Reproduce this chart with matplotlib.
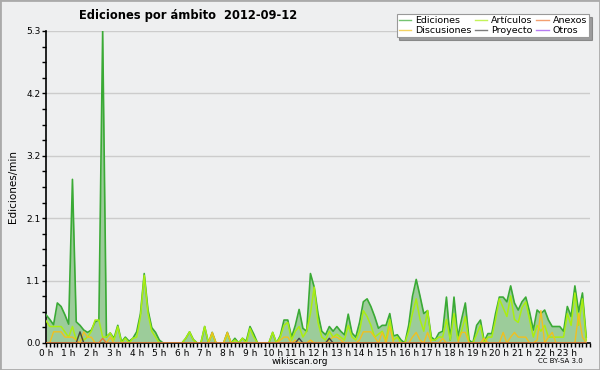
import matplotlib
matplotlib.use("Agg")
import matplotlib.pyplot as plt
from matplotlib.lines import Line2D
from matplotlib.patches import Rectangle
import numpy as np

# edits per minute, one value every 10 minutes (6 per hour)
ediciones = [
    0.48, 0.40, 0.31, 0.68, 0.62, 0.48,
    0.32, 2.78, 0.36, 0.30, 0.22, 0.18,
    0.22, 0.36, 0.39, 5.30, 0.10, 0.17,
    0.08, 0.30, 0.02, 0.10, 0.03, 0.08,
    0.19, 0.50, 1.18, 0.56, 0.26, 0.18,
    0.05, 0.00, 0.00, 0.00, 0.00, 0.00,
    0.00, 0.08, 0.19, 0.06, 0.00, 0.00,
    0.28, 0.00, 0.18, 0.00, 0.00, 0.00,
    0.18, 0.00, 0.08, 0.00, 0.08, 0.03,
    0.28, 0.15, 0.00, 0.00, 0.00, 0.00,
    0.18, 0.00, 0.12, 0.39, 0.39, 0.10,
    0.30, 0.57, 0.25, 0.20, 1.18, 0.95,
    0.50, 0.20, 0.14, 0.28, 0.20, 0.28,
    0.20, 0.14, 0.49, 0.17, 0.10, 0.35,
    0.70, 0.75, 0.62, 0.45, 0.25, 0.30,
    0.30, 0.50, 0.12, 0.14, 0.05, 0.00,
    0.30, 0.79, 1.08, 0.80, 0.50, 0.55,
    0.10, 0.05, 0.17, 0.20, 0.78, 0.05,
    0.78, 0.10, 0.40, 0.68, 0.05, 0.00,
    0.30, 0.39, 0.03, 0.16, 0.16, 0.50,
    0.78, 0.78, 0.70, 0.97, 0.68, 0.56,
    0.70, 0.78, 0.53, 0.22, 0.56, 0.50,
    0.56, 0.39, 0.28, 0.28, 0.28, 0.20,
    0.62, 0.45, 0.97, 0.53, 0.85, 0.10,
]

articulos = [
    0.38, 0.28, 0.28, 0.28, 0.28, 0.19,
    0.10, 0.28, 0.05, 0.15, 0.05, 0.10,
    0.20, 0.39, 0.39, 0.10, 0.10, 0.17,
    0.05, 0.28, 0.00, 0.08, 0.00, 0.08,
    0.10, 0.45, 1.15, 0.50, 0.20, 0.10,
    0.00, 0.00, 0.00, 0.00, 0.00, 0.00,
    0.00, 0.08, 0.19, 0.05, 0.00, 0.00,
    0.28, 0.00, 0.15, 0.00, 0.00, 0.00,
    0.15, 0.00, 0.05, 0.00, 0.08, 0.00,
    0.25, 0.10, 0.00, 0.00, 0.00, 0.00,
    0.18, 0.00, 0.10, 0.30, 0.35, 0.05,
    0.20, 0.28, 0.10, 0.20, 0.50, 0.95,
    0.35, 0.10, 0.05, 0.20, 0.10, 0.15,
    0.10, 0.05, 0.30, 0.10, 0.05, 0.20,
    0.55, 0.45, 0.30, 0.10, 0.15, 0.20,
    0.05, 0.40, 0.05, 0.10, 0.00, 0.00,
    0.20, 0.50, 0.75, 0.40, 0.20, 0.55,
    0.05, 0.05, 0.10, 0.10, 0.40, 0.05,
    0.50, 0.05, 0.20, 0.45, 0.00, 0.00,
    0.15, 0.30, 0.00, 0.10, 0.10, 0.40,
    0.75, 0.60, 0.45, 0.80, 0.40, 0.35,
    0.60, 0.70, 0.40, 0.10, 0.30, 0.20,
    0.30, 0.10, 0.10, 0.10, 0.10, 0.10,
    0.50, 0.30, 0.85, 0.30, 0.75, 0.05,
]

discusiones = [
    0.00, 0.00, 0.19, 0.19, 0.19, 0.10,
    0.10, 0.10, 0.05, 0.00, 0.19, 0.10,
    0.10, 0.00, 0.00, 0.00, 0.00, 0.10,
    0.00, 0.00, 0.00, 0.00, 0.00, 0.00,
    0.00, 0.00, 0.00, 0.00, 0.00, 0.00,
    0.00, 0.00, 0.00, 0.00, 0.00, 0.00,
    0.00, 0.00, 0.00, 0.00, 0.00, 0.00,
    0.00, 0.00, 0.18, 0.00, 0.00, 0.00,
    0.18, 0.00, 0.00, 0.00, 0.00, 0.00,
    0.00, 0.00, 0.00, 0.00, 0.00, 0.00,
    0.00, 0.00, 0.05, 0.10, 0.10, 0.00,
    0.05, 0.00, 0.00, 0.00, 0.05, 0.00,
    0.00, 0.00, 0.00, 0.05, 0.10, 0.10,
    0.05, 0.00, 0.00, 0.00, 0.00, 0.05,
    0.19, 0.19, 0.19, 0.10, 0.00, 0.18,
    0.00, 0.28, 0.00, 0.00, 0.00, 0.00,
    0.00, 0.10, 0.18, 0.05, 0.00, 0.18,
    0.00, 0.00, 0.00, 0.08, 0.00, 0.00,
    0.00, 0.00, 0.18, 0.18, 0.00, 0.00,
    0.00, 0.00, 0.08, 0.00, 0.00, 0.00,
    0.00, 0.18, 0.00, 0.10, 0.18, 0.10,
    0.10, 0.10, 0.00, 0.00, 0.05, 0.55,
    0.00, 0.10, 0.18, 0.00, 0.00, 0.00,
    0.00, 0.00, 0.00, 0.50, 0.10, 0.00,
]

# sparse series: slot index -> value
proyecto_slots = [9, 67, 75]
proyecto_vals = [0.19, 0.08, 0.08]
anexos_slots = [15]
anexos_vals = [0.08]

hour_labels = [f"{h} h" for h in range(24)]

n = len(ediciones)
x = np.arange(n) / 6.0
proyecto = np.zeros(n)
proyecto[proyecto_slots] = proyecto_vals
anexos = np.zeros(n)
anexos[anexos_slots] = anexos_vals
otros = np.zeros(n)

bg = "#eeeff0"
c_edic = "#3aaa35"
c_art = "#aaee11"
c_disc = "#f0c020"
c_anex = "#ee7733"
c_proy = "#444444"
c_otros = "#9944ee"

fig = plt.figure(figsize=(6, 3.7), dpi=100, facecolor=bg)
ax = fig.add_axes([46 / 600, 1 - 343 / 370, 544 / 600, 312 / 370])
ax.set_facecolor(bg)

ymax = 5.3
ax.fill_between(x, ediciones, color="#9ccc9a", lw=0, zorder=2)
ax.plot(x, ediciones, color=c_edic, lw=1.2, zorder=4)
ax.plot(x, articulos, color=c_art, lw=1.1, zorder=5)
ax.plot(x, discusiones, color=c_disc, lw=1.0, zorder=6)
ax.plot(x, proyecto, color=c_proy, lw=1.0, zorder=6)
ax.plot(x, anexos, color=c_anex, lw=1.0, zorder=6)

ax.set_xlim(0, 24)
ax.set_ylim(0, ymax)
yt = [ymax * k / 5 for k in range(6)]
ax.set_yticks(yt)
ax.set_yticklabels([f"{v:.1f}" for v in yt], fontsize=6.5)
ax.set_yticks([ymax * k / 20 for k in range(21)], minor=True)
ax.set_xticks(range(24))
ax.set_xticklabels(hour_labels, fontsize=6.5)
ax.set_xticks(np.arange(0, 24.01, 1 / 6), minor=True)
ax.tick_params(axis="both", which="both", direction="out", length=3, width=1, pad=1)
ax.grid(axis="y", color="#cccccc", lw=1, zorder=1)
ax.set_axisbelow(True)
for s in ["top", "right"]:
    ax.spines[s].set_visible(False)
ax.spines["left"].set_linewidth(1.2)
ax.spines["bottom"].set_linewidth(1.2)
ax.set_ylabel("Ediciones/min", fontsize=7.5, labelpad=6)

fig.text(188 / 600, 1 - 16 / 370, "Ediciones por ámbito  2012-09-12",
         ha="center", va="center", fontsize=8.3, fontweight="bold")
fig.text(300 / 600, 1 - 361 / 370, "wikiscan.org", ha="center", va="center", fontsize=6.5)
fig.text(560 / 600, 1 - 361 / 370, "CC BY-SA 3.0", ha="center", va="center", fontsize=5)

handles = [
    Line2D([], [], color=c_edic, lw=1, alpha=0.7, label="Ediciones"),
    Line2D([], [], color=c_disc, lw=1, alpha=0.7, label="Discusiones"),
    Line2D([], [], color=c_art, lw=1, alpha=0.7, label="Artículos"),
    Line2D([], [], color=c_proy, lw=1, alpha=0.7, label="Proyecto"),
    Line2D([], [], color=c_anex, lw=1, alpha=0.7, label="Anexos"),
    Line2D([], [], color=c_otros, lw=1, alpha=0.7, label="Otros"),
]
leg = fig.legend(handles=handles, ncol=3, loc="upper right",
                 bbox_to_anchor=(0.99, 0.975), fontsize=6.8,
                 handlelength=1.3, handletextpad=0.4, columnspacing=0.4,
                 labelspacing=0.05, borderpad=0.25, fancybox=False,
                 shadow=True, framealpha=1, edgecolor="#999999")
leg.get_frame().set_linewidth(0.8)

fig.patches.append(Rectangle((0, 0), 1, 1, transform=fig.transFigure,
                             fill=False, edgecolor="#aaaaaa", lw=2))

fig.savefig("out.png", dpi=100, facecolor=bg)
